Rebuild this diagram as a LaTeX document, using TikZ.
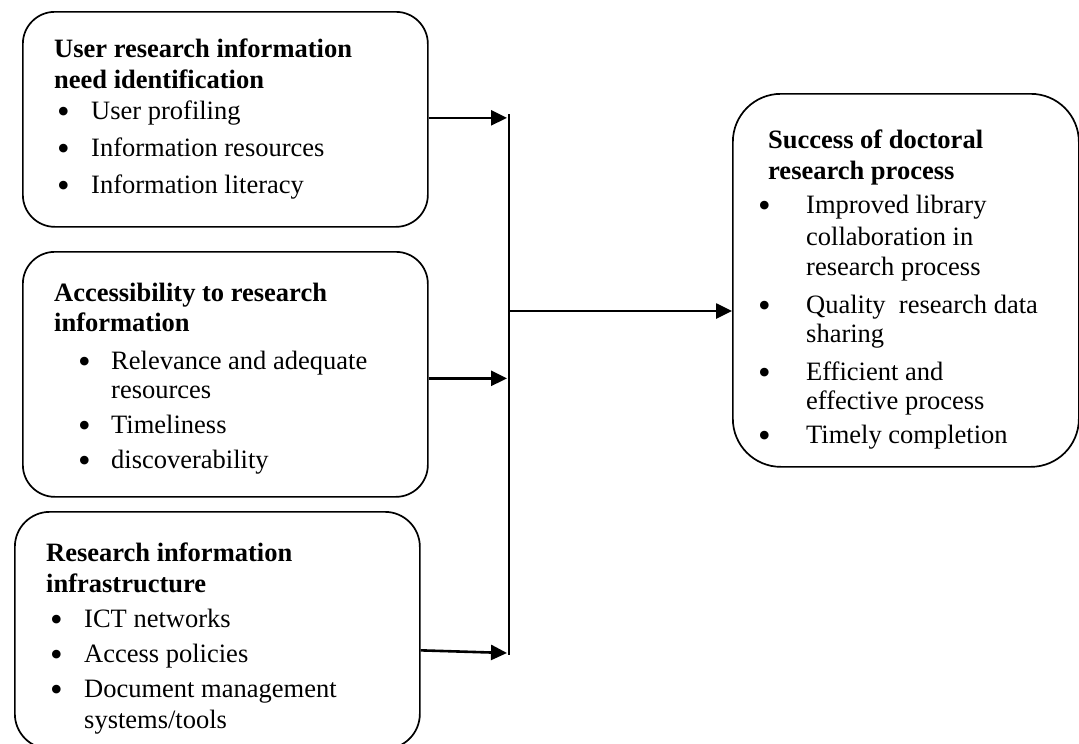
\documentclass[tikz,border=0pt]{standalone}
\usepackage{fontspec}
\setmainfont{Liberation Serif}
\usetikzlibrary{arrows.meta}
\tikzset{
  box/.style={draw, line width=1.7pt, rounded corners=32pt, anchor=north west, inner sep=0pt},
  ttl/.style={anchor=base west, inner sep=0pt, font=\fontsize{26.5}{30}\selectfont\bfseries},
  itm/.style={anchor=base west, inner sep=0pt, font=\fontsize{26.5}{30}\selectfont},
  dot/.style={anchor=base west, inner sep=0pt, yshift=-4pt, font=\fontsize{36}{30}\selectfont},
  arr/.style={line width=2.6pt, -{Triangle[length=16pt,width=15pt]}},
  vline/.style={line width=2pt},
}
\begin{document}
\begin{tikzpicture}[x=1pt,y=-1pt]
\useasboundingbox (0,0) rectangle (1079,744);
\clip (0,0) rectangle (1079,744);

% boxes
\node[box, minimum width=405pt, minimum height=215pt] (b1) at (22,11) {};
\node[box, minimum width=405pt, minimum height=245pt] (b2) at (22,251) {};
\node[box, minimum width=405pt, minimum height=237pt, rounded corners=35pt] (b3) at (14,511) {};
\node[box, minimum width=346pt, minimum height=373pt, rounded corners=48pt] (b4) at (732,93) {};

% box 1 text
\node[ttl] (t1a) at (54,57) {User research information};
\node[ttl] (t1b) at (54,88) {need identification};
\node[dot] (d1a) at (57,119) {•};
\node[itm] (i1a) at (91,119) {User profiling};
\node[dot] (d1b) at (57,156) {•};
\node[itm] (i1b) at (91,156) {Information resources};
\node[dot] (d1c) at (57,193) {•};
\node[itm] (i1c) at (91,193) {Information literacy};

% box 2 text
\node[ttl] (t2a) at (54,301) {Accessibility to research};
\node[ttl] (t2b) at (54,331) {information};
\node[dot] (d2a) at (78,369) {•};
\node[itm] (i2a) at (111,369) {Relevance and adequate};
\node[itm] (i2b) at (111,398) {resources};
\node[dot] (d2c) at (78,433) {•};
\node[itm] (i2c) at (111,433) {Timeliness};
\node[dot] (d2d) at (78,468) {•};
\node[itm] (i2d) at (111,468) {discoverability};

% box 3 text
\node[ttl] (t3a) at (46,561) {Research information};
\node[ttl] (t3b) at (46,592) {infrastructure};
\node[dot] (d3a) at (50,627) {•};
\node[itm] (i3a) at (84,627) {ICT networks};
\node[dot] (d3b) at (50,662) {•};
\node[itm] (i3b) at (84,662) {Access policies};
\node[dot] (d3c) at (50,697) {•};
\node[itm] (i3c) at (84,697) {Document management};
\node[itm] (i3d) at (84,728) {systems/tools};

% box 4 text
\node[ttl] (t4a) at (768,148) {Success of doctoral};
\node[ttl] (t4b) at (768,179) {research process};
\node[dot] (d4a) at (758,213) {•};
\node[itm] (i4a) at (806,213) {Improved library};
\node[itm] (i4b) at (806,245) {collaboration in};
\node[itm] (i4c) at (806,275) {research process};
\node[dot] (d4d) at (758,313) {•};
\node[itm] (i4d) at (806,313) {Quality\ \ research data};
\node[itm] (i4e) at (806,342) {sharing};
\node[dot] (d4f) at (758,380) {•};
\node[itm] (i4f) at (806,380) {Efficient and};
\node[itm] (i4g) at (806,409) {effective process};
\node[dot] (d4h) at (758,443) {•};
\node[itm] (i4h) at (806,443) {Timely completion};

% connectors
\coordinate (vtop) at (509,114);
\coordinate (vbot) at (509,655);
\coordinate (mid) at (509,311);
\coordinate (a3end) at (507,653);
\draw[vline] (vtop) -- (vbot);
\draw[arr] ([yshift=1.5pt]b1.east) -- ([yshift=1.5pt]b1.east -| a3end);
\draw[arr] ([yshift=-4pt]b2.east) -- ([yshift=-4pt]b2.east -| a3end);
\draw[arr] ([yshift=-20pt]b3.east) -- (a3end);
\draw[arr] (mid) -- (mid -| b4.west);
\end{tikzpicture}
\end{document}
